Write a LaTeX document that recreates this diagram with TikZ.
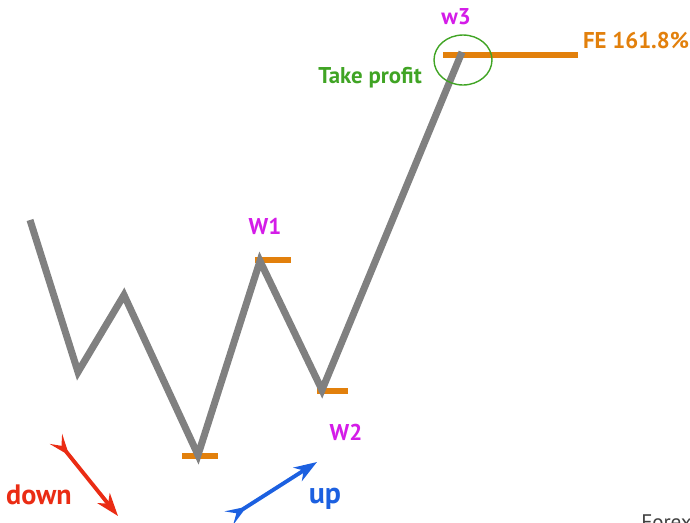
\documentclass[tikz,border=0pt]{standalone}
\usepackage{fontspec}
\setmainfont{PT Sans}
\usepackage{xcolor}
\usetikzlibrary{arrows.meta,shapes.geometric}

\definecolor{wavegray}{RGB}{128,128,128}
\definecolor{barorange}{RGB}{226,128,12}
\definecolor{wavemag}{RGB}{212,28,232}
\definecolor{tpgreen}{RGB}{64,164,36}
\definecolor{downred}{RGB}{234,44,20}
\definecolor{upblue}{RGB}{28,96,224}

\tikzset{
  wave/.style={draw=wavegray, line width=4pt, line join=miter},
  level/.style={draw=barorange, line width=3pt},
  wlabel/.style={text=wavemag, font=\bfseries\fontsize{13}{13}\selectfont},
  trend/.style={line width=2.2pt, arrows={Stealth[reversed, length=12pt, width=9pt, inset=5pt]-Stealth[length=13pt, width=9pt, inset=4pt]}}
}

\begin{document}
\begin{tikzpicture}[x=0.02cm, y=-0.02cm]
\useasboundingbox (0,0) rectangle (690,522);

\coordinate (0) at (30,220);
\coordinate (1) at (78,372);
\coordinate (2) at (124,295);
\coordinate (3) at (198,455);
\coordinate (4) at (260,261);
\coordinate (5) at (322,390);
\coordinate (6) at (462,52);

% levels
\draw[level] (182,456) -- (218,456);
\draw[level] (255,260) -- (291,260);
\draw[level] (317,391) -- (348,391);
\draw[level] (443,55) -- (578,55);

\path[wave] (0) -- (1) -- (2) -- (3) -- (4) -- (5) -- (6);

\node[draw=tpgreen, thick, ellipse, minimum width=1.16cm, minimum height=1cm] (tp) at (463,60) {};
\node[text=tpgreen, font=\bfseries\fontsize{13}{13}\selectfont] (tptext) at (370,78) {Take profit};
\node[text=barorange, font=\bfseries\fontsize{13}{13}\selectfont] (fe) at (636,40) {FE 161.8\%};

\node[wlabel] (w1) at (265,226) {W1};
\node[wlabel] (w2) at (346,432) {W2};
\node[wlabel] (w3) at (456,17) {w3};

\coordinate (dt) at (56,439);
\coordinate (dh) at (118,516);
\coordinate (ut) at (229,518);
\coordinate (uh) at (317,462);
\draw[trend, draw=downred, fill=downred] (dt) -- (dh);
\draw[trend, draw=upblue, fill=upblue] (ut) -- (uh);
\node[text=downred, font=\bfseries\fontsize{16}{16}\selectfont] (down) at (39,495) {down};
\node[text=upblue, font=\bfseries\fontsize{17}{17}\selectfont] (up) at (325,499) {up};

\begin{scope}
\clip (0,0) rectangle (690,522);
\node[anchor=north west, text=darkgray, font=\fontsize{12}{12}\selectfont, inner sep=0pt] (fx) at (641,514) {Forex};
\end{scope}

\end{tikzpicture}
\end{document}
